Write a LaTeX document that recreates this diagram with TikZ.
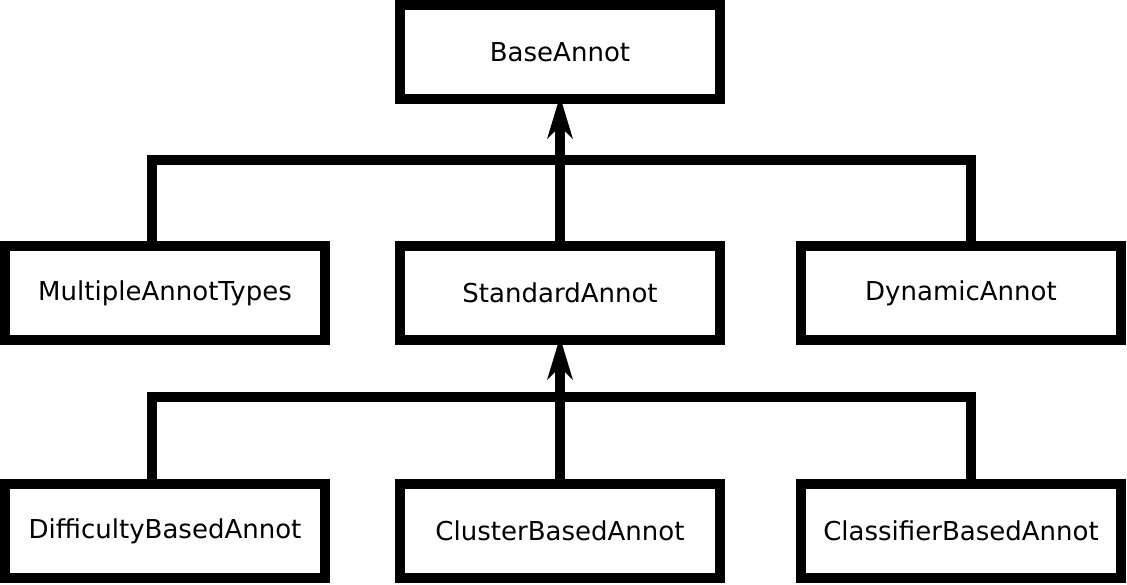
\documentclass[tikz,border=0pt]{standalone}
\usepackage{fontspec}
\setmainfont{DejaVu Sans}
\usetikzlibrary{positioning,calc,arrows.meta}

\begin{document}
\begin{tikzpicture}[
				x=0.025cm,y=-0.025cm,
				line cap=round,line join=round,
				annotbox/.style={draw=black, line width=7pt, fill=white,
					line join=miter,
					minimum width=8cm, minimum height=2.35cm, inner sep=0pt,
					font=\fontsize{18.5}{22}\selectfont},
				bus/.style={black, line width=6.5pt, line cap=rect, line join=miter},
				inherit/.style={black, line width=6.5pt, line cap=butt,
					-{Stealth[length=1.05cm, width=0.62cm, inset=0.3cm]}}
				]
				% ---- frame
				\useasboundingbox (0,0) rectangle (1127,585);
				
				% ---- parameters
				\def\busL{152}
				\def\busR{971}
				
				% top
				\node[annotbox] (base) at (560,52) {BaseAnnot};
				
				% middle row
				\node[annotbox] (multi) at (165,293) {MultipleAnnotTypes};
				\node[annotbox] (std)   at (560,293) {StandardAnnot};
				\node[annotbox] (dyn)   at (961,293) {DynamicAnnot};
				
				% bottom row
				\node[annotbox] (diff)  at (165,531) {DifficultyBasedAnnot};
				\node[annotbox] (clus)  at (560,531) {ClusterBasedAnnot};
				\node[annotbox] (clas)  at (961,531) {ClassifierBasedAnnot};
				
				% bus coordinates
				\coordinate (topL) at (\busL,160);
				\coordinate (topR) at (\busR,160);
				\coordinate (lowL) at (\busL,397);
				\coordinate (lowR) at (\busR,397);
				
				% buses
				\draw[bus] (multi.north -| topL) -- (topL) -- (topR) -- (dyn.north -| topR);
				\draw[bus] (diff.north -| lowL) -- (lowL) -- (lowR) -- (clas.north -| lowR);
				
				% inheritance arrows
				\draw[inherit] (std.north) -- ([yshift=0.2cm]base.south);
				\draw[inherit] (clus.north) -- ([yshift=0.2cm]std.south);
			\end{tikzpicture}
\end{document}
